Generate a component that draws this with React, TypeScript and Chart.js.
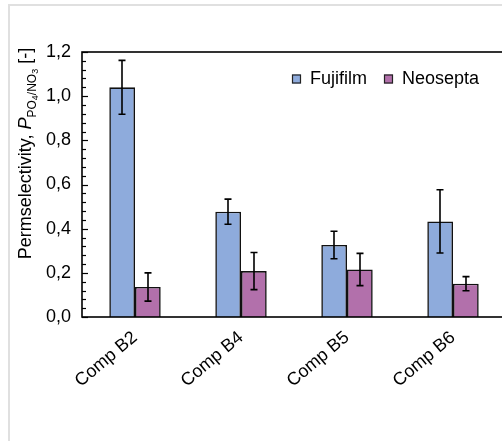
import React, { useEffect, useRef } from "react";
import { Chart, registerables } from "chart.js";

Chart.register(...registerables);

const categories = ["Comp B2", "Comp B4", "Comp B5", "Comp B6"];
const fujifilmValues = [1.04, 0.477, 0.326, 0.433];
const fujifilmErrors = [0.122, 0.057, 0.062, 0.143];
const neoseptaValues = [0.136, 0.208, 0.215, 0.151];
const neoseptaErrors = [0.064, 0.084, 0.073, 0.032];
const seriesNames = ["Fujifilm", "Neosepta"];
const seriesColors = ["#8eabdc", "#b270ab"];
const yMin = 0;
const yMax = 1.2;
const yStep = 0.2;
const yMinorStep = 0.04;

const FONT = "'Liberation Sans', Arial, Helvetica, sans-serif";
const errors = [fujifilmErrors, neoseptaErrors];

const framePlugin = {
  id: "frame",
  afterDatasetsDraw(chart: any) {
    const { ctx, chartArea, scales } = chart;
    const y = scales.y;
    // error bars
    ctx.save();
    ctx.strokeStyle = "#000";
    ctx.lineWidth = 1.6;
    chart.data.datasets.forEach((ds: any, di: number) => {
      const meta = chart.getDatasetMeta(di);
      meta.data.forEach((bar: any, i: number) => {
        const v = ds.data[i];
        const e = errors[di][i];
        const yt = y.getPixelForValue(v + e);
        const yb = y.getPixelForValue(v - e);
        const x = Math.round(bar.x);
        ctx.beginPath();
        ctx.moveTo(x, yt);
        ctx.lineTo(x, yb);
        ctx.moveTo(x - 3.5, yt);
        ctx.lineTo(x + 3.5, yt);
        ctx.moveTo(x - 3.5, yb);
        ctx.lineTo(x + 3.5, yb);
        ctx.stroke();
      });
    });
    // frame
    ctx.lineWidth = 1.6;
    ctx.strokeRect(chartArea.left, chartArea.top, chartArea.right - chartArea.left, chartArea.bottom - chartArea.top);
    // inward ticks
    ctx.lineWidth = 1.2;
    const n = Math.round((yMax - yMin) / yMinorStep);
    const ratio = Math.round(yStep / yMinorStep);
    for (let k = 0; k <= n; k++) {
      const py = Math.round(y.getPixelForValue(yMin + k * yMinorStep)) + 0.5;
      const len = k % ratio === 0 ? 6 : 4;
      ctx.beginPath();
      ctx.moveTo(chartArea.left, py);
      ctx.lineTo(chartArea.left + len, py);
      ctx.stroke();
    }
    // legend
    let lx = chartArea.left + 210;
    const ly = chartArea.top + 27;
    ctx.font = `18px ${FONT}`;
    ctx.textBaseline = "middle";
    ctx.textAlign = "left";
    ctx.fillStyle = "#000";
    seriesNames.forEach((name, i) => {
      ctx.fillStyle = seriesColors[i];
      ctx.fillRect(lx, ly - 4.5, 9, 9);
      ctx.lineWidth = 1.2;
      ctx.strokeStyle = "#222";
      ctx.strokeRect(lx + 0.5, ly - 4, 8, 8);
      ctx.fillStyle = "#000";
      ctx.fillText(name, lx + 18, ly);
      lx += 18 + ctx.measureText(name).width + 17;
    });
    // y title
    const parts = [
      { t: "Permselectivity, ", f: `18px ${FONT}`, dy: 0 },
      { t: "P", f: `italic 18px ${FONT}`, dy: 0 },
      { t: "PO", f: `12px ${FONT}`, dy: 5 },
      { t: "4", f: `9px ${FONT}`, dy: 7 },
      { t: "/NO", f: `12px ${FONT}`, dy: 5 },
      { t: "3", f: `9px ${FONT}`, dy: 7 },
      { t: " [-]", f: `18px ${FONT}`, dy: 0 },
    ];
    let total = 0;
    parts.forEach((p) => {
      ctx.font = p.f;
      total += ctx.measureText(p.t).width;
    });
    ctx.save();
    ctx.translate(31, (chartArea.top + chartArea.bottom) / 2 - 31);
    ctx.rotate(-Math.PI / 2);
    ctx.textBaseline = "alphabetic";
    let tx = -total / 2;
    parts.forEach((p) => {
      ctx.font = p.f;
      ctx.fillText(p.t, tx, p.dy);
      tx += ctx.measureText(p.t).width;
    });
    ctx.restore();
    ctx.restore();
  },
};

export default function App() {
  const ref = useRef<HTMLCanvasElement>(null);
  useEffect(() => {
    if (!ref.current) return;
    Chart.defaults.color = "#000";
    Chart.defaults.font.family = FONT;
    const chart = new Chart(ref.current, {
      type: "bar",
      data: {
        labels: categories,
        datasets: [
          {
            label: seriesNames[0],
            data: fujifilmValues,
            backgroundColor: seriesColors[0],
            borderColor: "#111",
            borderWidth: 1.6,
            categoryPercentage: 0.485,
            barPercentage: 1.0,
          },
          {
            label: seriesNames[1],
            data: neoseptaValues,
            backgroundColor: seriesColors[1],
            borderColor: "#111",
            borderWidth: 1.6,
            categoryPercentage: 0.485,
            barPercentage: 1.0,
          },
        ],
      },
      options: {
        responsive: false,
        animation: false,
        devicePixelRatio: 1,
        layout: { padding: { left: 0, top: 52, right: 6, bottom: 0 } },
        plugins: { legend: { display: false }, tooltip: { enabled: false } },
        scales: {
          x: {
            grid: { display: false, drawTicks: false },
            border: { display: false },
            ticks: { minRotation: 40, maxRotation: 40, padding: 10, font: { size: 18 } },
            afterFit: (s: any) => {
              s.height = 124;
            },
          },
          y: {
            min: yMin,
            max: yMax,
            grid: { display: false, drawTicks: false },
            border: { display: false },
            ticks: {
              stepSize: yStep,
              padding: 11,
              font: { size: 18 },
              callback: (v: any) => Number(v).toFixed(1).replace(".", ","),
            },
            afterFit: (s: any) => {
              s.width = 82;
            },
          },
        },
      },
      plugins: [framePlugin],
    });
    return () => chart.destroy();
  }, []);
  return (
    <div style={{ position: "absolute", left: 0, top: 0, width: 502, height: 441, overflow: "hidden", background: "#fff" }}>
      <div style={{ position: "absolute", left: 8, top: 4, right: -10, bottom: -10, borderTop: "2px solid #e0e0e0", borderLeft: "2px solid #e0e0e0" }} />
      <canvas ref={ref} width={512} height={441} style={{ position: "absolute", left: 0, top: 0 }} />
    </div>
  );
}
